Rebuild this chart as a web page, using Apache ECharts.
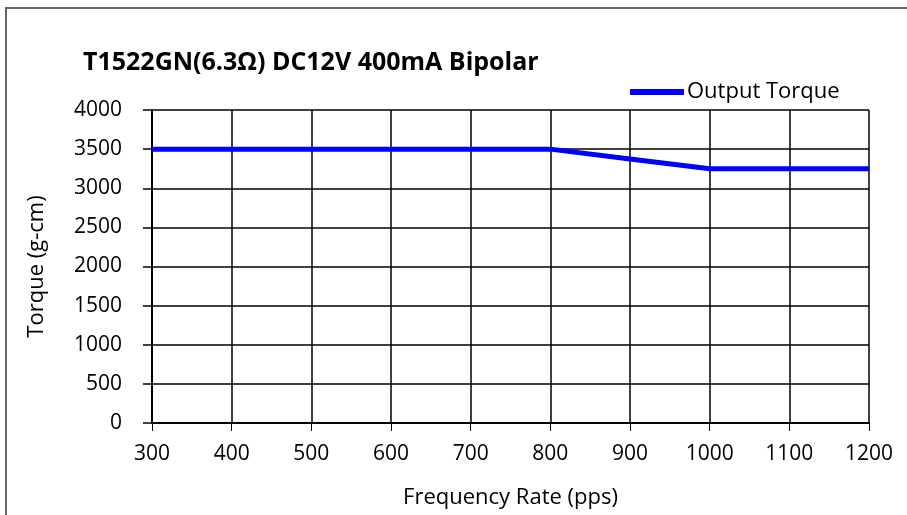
<!DOCTYPE html>
<html>
<head>
<meta charset="utf-8">
<script src="https://cdn.jsdelivr.net/npm/echarts@6/dist/echarts.min.js"></script>
<style>
  html, body { margin: 0; padding: 0; background: #fff; }
  #chart { width: 907px; height: 515px; }
</style>
</head>
<body>
<div id="chart"></div>
<script>
// frequency (pps) vs output torque (g-cm)
const freq = [300, 400, 500, 600, 700, 800, 900, 1000, 1100, 1200];
const torque = [3500, 3500, 3500, 3500, 3500, 3500, 3375, 3250, 3250, 3250];

const font = '"Open Sans", "Noto Sans", sans-serif';

let chart = echarts.init(document.getElementById('chart'));

let option = {
  animation: false,
  backgroundColor: '#fff',
  title: {
    text: 'T1522GN(6.3Ω) DC12V 400mA Bipolar',
    left: 78,
    top: 45,
    textStyle: {fontFamily: font, fontWeight: 'bold', fontSize: 25, color: '#000'}
  },
  legend: {
    data: ['Output Torque'],
    left: 625,
    top: 76,
    itemWidth: 54,
    itemHeight: 6,
    itemGap: 4,
    icon: 'rect',
    textStyle: {fontFamily: font, fontSize: 22, color: '#000', padding: [0, 0, 0, -2]}
  },
  grid: {left: 152, right: 38, top: 110, bottom: 92, containLabel: false},
  xAxis: {
    type: 'value',
    min: 300,
    max: 1200,
    interval: 100,
    name: 'Frequency Rate (pps)',
    nameLocation: 'middle',
    nameGap: 64,
    nameTextStyle: {fontFamily: font, fontSize: 22, color: '#000'},
    axisLine: {show: true, lineStyle: {color: '#000', width: 2}},
    axisTick: {show: true, length: 8, lineStyle: {color: '#000', width: 1}},
    axisLabel: {fontFamily: font, fontSize: 21, color: '#000', margin: 21, formatter: v => String(v)},
    splitLine: {show: true, lineStyle: {color: '#000', width: 1.5}}
  },
  yAxis: {
    type: 'value',
    min: 0,
    max: 4000,
    interval: 500,
    name: 'Torque (g-cm)',
    nameLocation: 'middle',
    nameGap: 104,
    nameTextStyle: {fontFamily: font, fontSize: 22, color: '#000'},
    axisLine: {show: true, lineStyle: {color: '#000', width: 2}},
    axisTick: {show: true, length: 9, lineStyle: {color: '#000', width: 1.5}},
    axisLabel: {fontFamily: font, fontSize: 21, color: '#000', margin: 30, formatter: v => String(v)},
    splitLine: {show: true, lineStyle: {color: '#000', width: 1.5}}
  },
  series: [
    {
      name: 'Output Torque',
      type: 'line',
      data: freq.map((f, i) => [f, torque[i]]),
      showSymbol: false,
      symbol: 'none',
      lineStyle: {color: '#0000ff', width: 5},
      itemStyle: {color: '#0000ff'}
    }
  ],
  graphic: [
    {
      type: 'rect',
      shape: {x: 6, y: 8, width: 960, height: 560},
      style: {fill: 'none', stroke: '#666', lineWidth: 2},
      silent: true
    }
  ]
};

chart.setOption(option);
</script>
</body>
</html>
